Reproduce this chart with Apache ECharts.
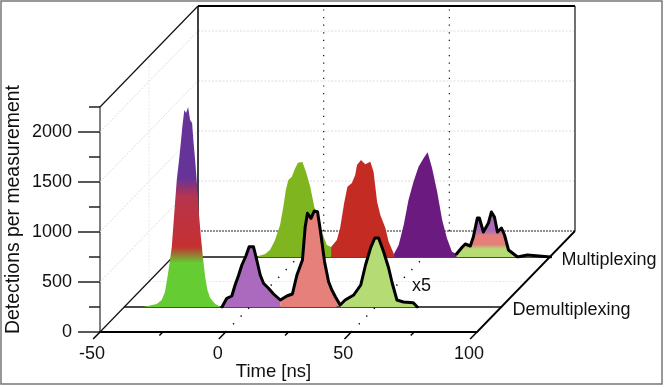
<!DOCTYPE html>
<html><head><meta charset="utf-8">
<style>html,body{margin:0;padding:0;background:#fff}#c{width:664px;height:387px}</style>
<script src="https://cdn.jsdelivr.net/npm/echarts@6/dist/echarts.min.js"></script>
</head><body><div id="c"></div>
<script>
const FONT = '"Liberation Sans", Arial, sans-serif';
const xTickLabels = [-50, 0, 50, 100];
const yMajorTicks = [0, 500, 1000, 1500, 2000];
const wallLevels = [500, 1000, 1500, 2000];
const timeMarkers = [0, 50];
const xTicksMajor = [-50, 0, 50, 100];
const xTicksMinor = [-25, 25, 75];

// Front row
const bigTimes  = [-42.6,-37.2,-35.2,-33.9,-32.9,-31.9,-31.2,-30.6,-29.9,-29.2,-28.3,-27.6,-27,-26.2,-25.5,-24.7,-23.9,-23.1,-22.6,-21.8,-21.2,-20.4,-19.6,-18.8,-17.9,-17,-15.9,-13.9,-11.7];
const bigValues = [0,30,70,150,300,470,600,800,1040,1270,1470,1640,1800,1970,1940,2000,1870,1840,1670,1440,1240,940,700,500,300,170,90,30,0];
const outlineTimes  = [-11.2,-9.3,-7.3,-6,-4.7,-3.3,-1.7,-0.4,1.3,2.3,4,5.3,7.3,9.3,12,14.6,16.8,18.6,20.8,21.9,22.8,24.2,25.5,26.8,27.9,29.6,31.2,32.5,33.9,35.8,37.8,41.2,44,45.9,47.9,49.6,51.1,53.1,55.1,56.5,58.4,61,64.9,66.5];
const outlineValues = [0,87,110,220,310,420,510,603,603,503,320,237,187,130,70,110,130,320,470,803,937,887,960,953,770,453,253,170,103,20,70,120,220,420,590,690,690,553,390,240,70,50,43,0];
const splitA = outlineTimes.indexOf(12), splitB = outlineTimes.indexOf(35.8); // fill colour changes

// Back row
const greenTimes  = [-16.4,-13.7,-11.8,-9.8,-7.8,-6.5,-5.5,-4.5,-3.1,-2.1,-0.7,1.1,2.5,4.2,5.8,8.8,10.8,12.5];
const greenValues = [10,30,70,170,320,503,670,770,803,870,943,950,853,703,503,253,120,100];
const redTimes  = [12.5,14.8,16.1,17.7,19,20.8,22.1,22.8,24.4,26.1,28.1,29.4,30.8,32.1,34.1,35.4,37.5];
const redValues = [100,170,290,540,703,740,820,920,970,927,953,853,553,420,290,153,30];
const purpleTimes  = [37.5,39.4,41.4,43.3,45.3,47.3,49.3,50.9,52.7,54.7,56.7,58.6,60.6,62.4];
const purpleValues = [30,120,320,570,753,903,987,1047,887,653,370,187,53,30];
const mixTimes  = [62.4,64.7,65.9,67.9,69.1,70.7,71.5,73.1,75.1,76.3,77.5,78.7,80.3,81.5,83.1,86.7,90.6,99.8];
const mixValues = [30,100,130,110,200,390,390,250,340,450,400,250,290,220,70,0,20,0];

const zip = (t, v) => t.map((x, i) => [x, v[i]]);
const depthX = 98, depthY = -101;

function frame(segments, stroke, lineWidth, lineDash) {
  return {
    type: 'custom', coordinateSystem: 'cartesian2d', xAxisIndex: 0, yAxisIndex: 0, z: 1, clip: false, silent: true,
    encode: { x: [0, 3], y: [1, 4] }, data: segments,
    renderItem: (p, api) => {
      const pt = (i) => { const c = api.coord([api.value(i), api.value(i + 1)]); const d = api.value(i + 2); return [c[0] + d * depthX, c[1] + d * depthY]; };
      const a = pt(0), b = pt(3);
      return { type: 'line', shape: { x1: a[0], y1: a[1], x2: b[0], y2: b[1] }, style: { stroke, lineWidth, lineDash: lineDash || null, fill: null } };
    }
  };
}
function area(times, values, row, fill, z) {
  return { type: 'line', xAxisIndex: row, yAxisIndex: row + 1, data: zip(times, values), symbol: 'none', z,
    lineStyle: { width: 0 }, areaStyle: { color: fill, opacity: 1 }, silent: true };
}
function outline(times, values, row, z) {
  return { type: 'line', xAxisIndex: row, yAxisIndex: row + 1, data: zip(times, values), symbol: 'none', z,
    lineStyle: { width: 3, color: '#000', cap: 'round', join: 'round' }, silent: true };
}
const vgrad = (stops) => new echarts.graphic.LinearGradient(0, 0, 0, 1, stops.map(s => ({ offset: s[0], color: s[1] })));
const bigFill = vgrad([[0, '#663399'], [0.355, '#663399'], [0.45, '#b7344c'], [0.7, '#c53030'], [0.78, '#66cc33'], [1, '#66cc33']]);
const mixFill = vgrad([[0, '#a967bd'], [0.42, '#ab6db8'], [0.52, '#e47f7a'], [0.72, '#e47f7a'], [0.82, '#b6db75'], [1, '#b6db75']]);

const Y_MAX = 2250;
const series = [
  frame(wallLevels.flatMap(v => [[-50, v, 0, -50, v, 1], [-50, v, 1, 100, v, 1]]), '#dcdcdc', 1, [2, 1.5]),
  frame([[-50, 0, 0.5, -50, Y_MAX, 0.5], [-50, 0, 0.5, 100, 0, 0.5]], '#e8e8e8', 1, [2, 1.5]),
  frame(timeMarkers.map(t => [t, 0, 1, t, Y_MAX, 1]), '#111', 1.2, [1.2, 6.4]),
  frame(timeMarkers.map(t => [t, 0, 0, t, 0, 1]), '#000', 1.5, [1.2, 9.6]),
  frame([[-50, 0, 1, 100, 0, 1]], '#222', 1, [2, 1]),
  frame([[-50, Y_MAX, 0, -50, Y_MAX, 1], [-50, 0, 0, -50, 0, 1], [100, Y_MAX, 1, 100, 0, 1]], '#111', 1.2),
  frame([[-50, Y_MAX, 1, -50, 0, 1]], '#111', 1.6),
  frame([[-50, Y_MAX, 1, 100, Y_MAX, 1], [100, 0, 0, 100, 0, 1]], '#000', 1.8),
  frame(xTicksMajor.map(t => [t, 0, 0, t, 0, -0.07]), '#000', 1.5),
  frame(xTicksMinor.map(t => [t, 0, 0, t, 0, -0.035]), '#000', 1.5),
  area(greenTimes, greenValues, 2, '#7fb51f', 4),
  area(redTimes, redValues, 2, '#c42b22', 4),
  area(purpleTimes, purpleValues, 2, '#6b1a80', 4),
  area(mixTimes, mixValues, 2, mixFill, 4),
  outline(mixTimes, mixValues, 2, 5),
  area(bigTimes, bigValues, 1, bigFill, 6),
  area(outlineTimes.slice(0, splitA + 1), outlineValues.slice(0, splitA + 1), 1, '#ab6abe', 6),
  area(outlineTimes.slice(splitA, splitB + 1), outlineValues.slice(splitA, splitB + 1), 1, '#e5807a', 6),
  area(outlineTimes.slice(splitB), outlineValues.slice(splitB), 1, '#b5db74', 6),
  outline(outlineTimes, outlineValues, 1, 7)
];

const hiddenY = (gridIndex) => ({ type: 'value', gridIndex, min: 0, max: Y_MAX, show: false });
const rowX = (gridIndex) => ({ type: 'value', gridIndex, min: -50, max: 100, interval: 50, position: 'bottom',
  axisLine: { show: true, onZero: false, lineStyle: { color: '#111', width: 1.5 } }, axisTick: { show: false }, axisLabel: { show: false }, splitLine: { show: false } });
const plain = (v) => String(v);

const chart = echarts.init(document.getElementById('c'), null, { renderer: 'canvas' });
chart.setOption({
  animation: false,
  backgroundColor: '#fff',
  textStyle: { fontFamily: FONT },
  grid: [
    { left: 100, top: 107, width: 377, height: 225, outerBoundsMode: 'none' },
    { left: 124.5, top: 82, width: 377, height: 225, outerBoundsMode: 'none' },
    { left: 174, top: 32, width: 377, height: 225, outerBoundsMode: 'none' }
  ],
  xAxis: [
    { type: 'value', gridIndex: 0, min: -50, max: 100, interval: 50, position: 'bottom',
      axisLine: { show: true, onZero: false, lineStyle: { color: '#000', width: 2 } }, axisTick: { show: false }, splitLine: { show: false },
      axisLabel: { show: true, fontSize: 18, fontFamily: FONT, color: '#111', margin: 13, padding: [0, 16, 0, 0], customValues: xTickLabels, formatter: plain, showMinLabel: true, showMaxLabel: true },
      name: 'Time [ns]', nameLocation: 'middle', nameGap: 30, nameMoveOverlap: false, nameTextStyle: { fontSize: 18.5, fontFamily: FONT, color: '#111', padding: [0, 30, 0, 0] } },
    rowX(1), rowX(2)
  ],
  yAxis: [
    { type: 'value', gridIndex: 0, min: 0, max: Y_MAX, interval: 250, position: 'left',
      axisLine: { show: true, onZero: false, lineStyle: { color: '#555', width: 1.5 } }, axisTick: { show: true, length: 11, lineStyle: { color: '#222', width: 1.5 } },
      axisLabel: { show: false }, splitLine: { show: false } },
    { type: 'value', gridIndex: 0, min: 0, max: Y_MAX, interval: 250, position: 'left',
      axisLine: { show: false, onZero: false }, axisTick: { show: true, length: 22, customValues: yMajorTicks, lineStyle: { color: '#222', width: 1.5 } },
      axisLabel: { show: true, fontSize: 18, fontFamily: FONT, color: '#111', margin: 28, customValues: yMajorTicks, formatter: plain, showMinLabel: true }, splitLine: { show: false },
      name: 'Detections per measurement', nameLocation: 'middle', nameGap: 77, nameMoveOverlap: false, nameTextStyle: { fontSize: 19.4, fontFamily: FONT, color: '#111', padding: [0, 0, 0, 20] } },
    hiddenY(1), hiddenY(2)
  ],
  series,
  graphic: [
    { type: 'rect', shape: { x: 1, y: 1, width: 661, height: 383 }, style: { fill: 'none', stroke: '#777', lineWidth: 1.5 }, z: 50, silent: true },
    { type: 'text', x: 412, y: 286, style: { text: 'x5', font: '18px ' + FONT, fill: '#111', verticalAlign: 'middle' }, z: 50 },
    { type: 'text', x: 561.5, y: 260.5, style: { text: 'Multiplexing', font: '18px ' + FONT, fill: '#111', verticalAlign: 'middle' }, z: 50 },
    { type: 'text', x: 512.5, y: 310.5, style: { text: 'Demultiplexing', font: '18px ' + FONT, fill: '#111', verticalAlign: 'middle' }, z: 50 }
  ]
});
</script></body></html>
